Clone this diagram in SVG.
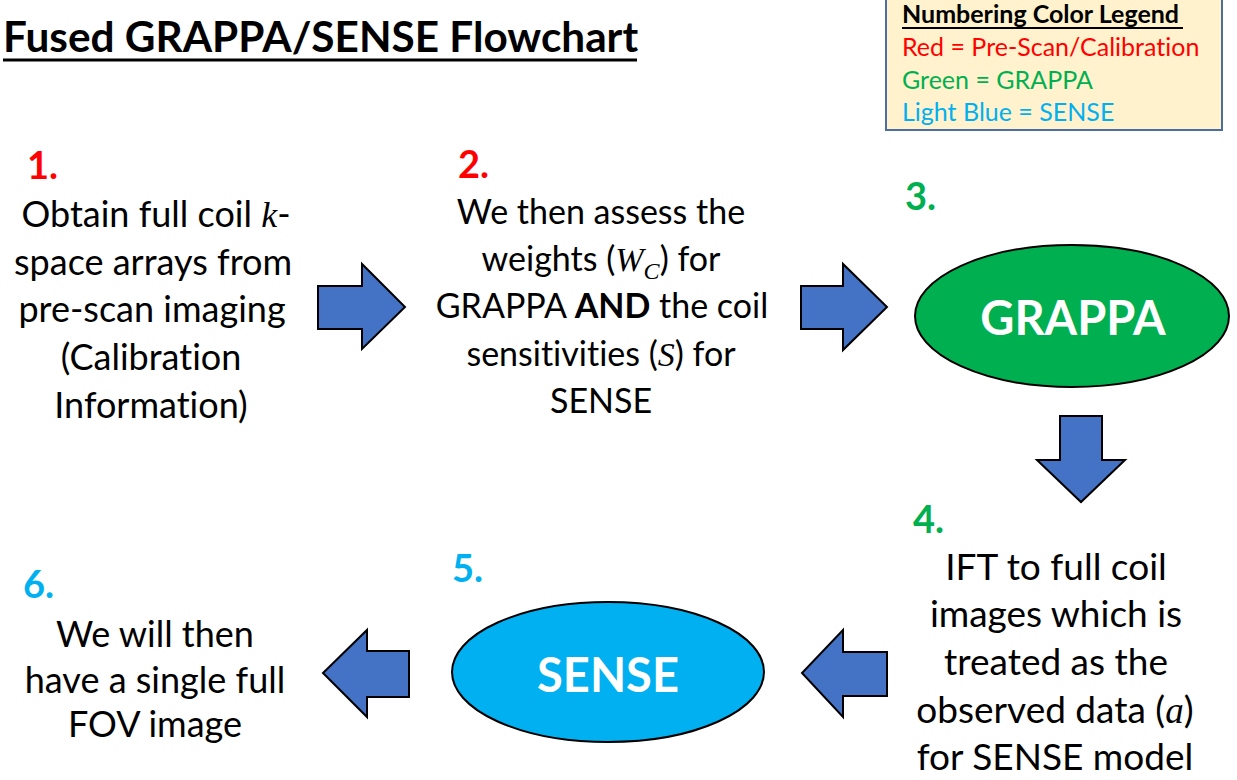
<svg xmlns="http://www.w3.org/2000/svg" width="1237" height="780" viewBox="0 0 1237 780">
<defs>
<style>
text{font-variant-ligatures:none}
.t{font-family:Lato,"Open Sans",sans-serif;fill:#000;text-anchor:middle}
.num{font-family:Lato,"Open Sans",sans-serif;font-size:38px;font-weight:bold}
.m{font-family:"Liberation Serif",serif;font-style:italic}
.arrow{fill:#4472C4;stroke:#000;stroke-width:2;stroke-linejoin:miter}
.lg{font-family:Lato,"Open Sans",sans-serif;font-size:25px}
.oval{stroke:#000;stroke-width:2}
.ot{font-family:Lato,"Open Sans",sans-serif;font-weight:bold;fill:#fff;text-anchor:middle;font-size:47px}
</style>
</defs>
<rect width="1237" height="780" fill="#fff"/>
<g id="title">
<text x="3" y="52" font-family="Lato,'Open Sans',sans-serif" font-weight="bold" font-size="42.3" fill="#000">Fused GRAPPA/SENSE Flowchart</text>
<line x1="3" y1="60" x2="637" y2="60" stroke="#000" stroke-width="3"/>
</g>
<g id="legend">
<rect x="886" y="-4" width="336" height="134" fill="#FFF2CC" stroke="#4A6E9E" stroke-width="2"/>
<text x="902" y="23" class="lg" font-weight="bold" fill="#000">Numbering Color Legend</text>
<line x1="902" y1="28" x2="1183" y2="28" stroke="#000" stroke-width="2"/>
<text x="902" y="56" class="lg" fill="#FF0000">Red = Pre-Scan/Calibration</text>
<text x="902" y="89" class="lg" fill="#00B050">Green = GRAPPA</text>
<text x="902" y="121" class="lg" fill="#00B0F0">Light Blue = SENSE</text>
</g>
<g id="step1">
<text x="27" y="179" class="num" fill="#FF0000">1.</text>
<text class="t" font-size="36"><tspan x="156" y="227">Obtain full coil <tspan class="m">k</tspan>-</tspan><tspan x="153" y="275">space arrays from</tspan><tspan x="152" y="322">pre-scan imaging</tspan><tspan x="151" y="370">(Calibration</tspan><tspan x="151" y="418">Information)</tspan></text>
</g>
<g id="step2">
<text x="458" y="178" class="num" fill="#FF0000">2.</text>
<text class="t" font-size="34"><tspan x="601" y="224">We then assess the</tspan><tspan x="601" y="271">weights (<tspan class="m">W</tspan><tspan class="m" font-size="24" dy="8">C</tspan><tspan dy="-8">) for</tspan></tspan><tspan x="602" y="318">GRAPPA <tspan font-weight="bold">AND</tspan> the coil</tspan><tspan x="601" y="366">sensitivities (<tspan class="m">S</tspan>) for</tspan><tspan x="601" y="413">SENSE</tspan></text>
</g>
<g id="step3">
<text x="905" y="210" class="num" fill="#00B050">3.</text>
<ellipse cx="1072" cy="316" rx="157" ry="71" fill="#00B050" class="oval"/>
<text x="1073" y="335" class="ot">GRAPPA</text>
</g>
<g id="step4">
<text x="913" y="533" class="num" fill="#00B050">4.</text>
<text class="t" font-size="37"><tspan x="1056" y="580">IFT to full coil</tspan><tspan x="1056" y="627">images which is</tspan><tspan x="1056" y="675">treated as the</tspan><tspan x="1055" y="723">observed data (<tspan class="m">a</tspan>)</tspan><tspan x="1055" y="770">for SENSE model</tspan></text>
</g>
<g id="step5">
<text x="452" y="582" class="num" fill="#00B0F0">5.</text>
<ellipse cx="608" cy="672" rx="156" ry="70" fill="#00B0F0" class="oval"/>
<text x="608" y="692" class="ot">SENSE</text>
</g>
<g id="step6">
<text x="23" y="598" class="num" fill="#00B0F0">6.</text>
<text class="t" font-size="36"><tspan x="155" y="647">We will then</tspan><tspan x="155" y="693">have a single full</tspan><tspan x="155" y="737">FOV image</tspan></text>
</g>
<g id="connectors">
<polygon class="arrow" points="318,286 362,286 362,264 405,307 362,349 362,329 318,329"/>
<polygon class="arrow" points="801,286 843,286 843,264 887,307 843,350 843,329 801,329"/>
<polygon class="arrow" points="1060,416 1102,416 1102,460 1125,460 1081,502 1037,460 1060,460"/>
<polygon class="arrow" points="887,652 843,652 843,630 802,673 843,717 843,696 887,696"/>
<polygon class="arrow" points="409,651 367,651 367,630 323,673 367,717 367,697 409,697"/>
</g>
</svg>
